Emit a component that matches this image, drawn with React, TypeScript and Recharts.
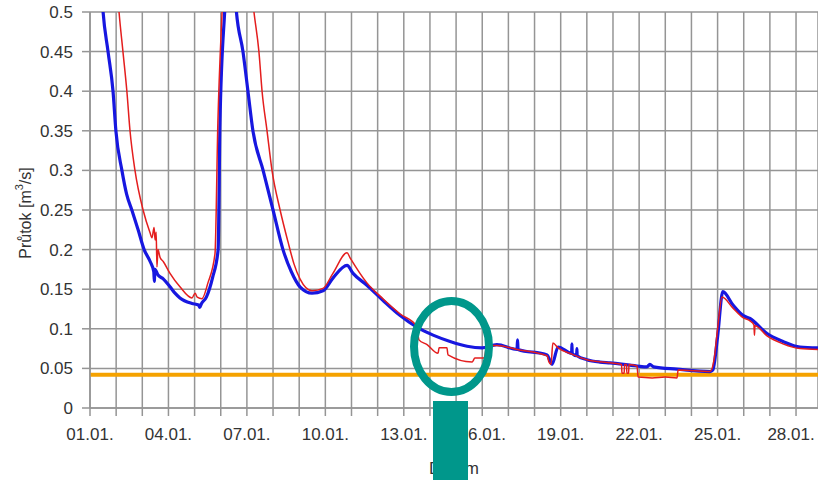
import { LineChart, Line, XAxis, YAxis, CartesianGrid, ReferenceLine } from 'recharts';

// blue series: day of month (fraction) / flow in m3/s
const blueDays = [
  1.0, 1.3, 1.5, 1.69, 1.88, 1.99, 2.22, 2.4, 2.6, 2.84, 3.07, 3.3, 3.44, 3.46, 3.48, 3.6, 3.8, 4.06, 4.25, 4.44, 4.9,
  5.15, 5.2, 5.25, 5.45, 5.69, 5.9, 5.97, 6.15, 6.4, 6.6, 6.85, 7.04, 7.23, 7.62, 8.0, 8.38, 8.7, 9.03,
  9.49, 9.91, 10.29, 10.83, 11.06, 11.59, 12.2, 12.85, 13.5, 14.12, 14.77, 15.42, 15.99, 16.56,
  17.33, 17.35, 17.37, 18.48, 18.59, 18.67, 18.9, 19.42, 19.43, 19.44, 19.61, 19.62, 19.63, 20.0,
  20.5, 20.89, 21.92, 22.3, 22.41, 22.55, 23.45, 24.71, 24.82, 25.0, 25.2, 25.59, 25.97, 26.24,
  26.89, 27.5, 28.15, 28.84,
];
const blueFlow = [
  0.95, 0.62, 0.5, 0.45, 0.4, 0.35, 0.3, 0.27, 0.25, 0.225, 0.2, 0.185, 0.172, 0.16, 0.175, 0.168, 0.163, 0.153, 0.145, 0.139, 0.132,
  0.13, 0.127, 0.131, 0.14, 0.165, 0.2, 0.36, 0.5, 0.6, 0.5, 0.45, 0.4, 0.35, 0.3, 0.25, 0.2, 0.172, 0.153,
  0.145, 0.148, 0.164, 0.18, 0.17, 0.155, 0.136, 0.117, 0.102, 0.092, 0.084, 0.078, 0.076, 0.08,
  0.074, 0.086, 0.074, 0.067, 0.06, 0.055, 0.077, 0.069, 0.081, 0.069, 0.066, 0.075, 0.066, 0.061,
  0.058, 0.057, 0.053, 0.052, 0.055, 0.052, 0.049, 0.046, 0.048, 0.09, 0.147, 0.13, 0.117, 0.113,
  0.094, 0.084, 0.077, 0.076,
];

// red series
const redDays = [
  1.0, 1.6, 2.11, 2.26, 2.41, 2.53, 2.72, 3.03, 3.29, 3.37, 3.45, 3.49, 3.53, 3.56, 3.6, 3.68, 3.8,
  4.06, 4.44, 4.9, 5.02, 5.1, 5.28, 5.51, 5.78, 5.89, 6.05, 6.6, 7.27, 7.46, 7.58, 7.77, 7.96, 8.27,
  8.57, 8.8, 9.03, 9.49, 9.91, 10.29, 10.83, 10.94, 11.59, 12.2, 12.85, 13.5, 13.58, 13.89, 14.31, 14.35,
  14.65, 14.69, 15.61, 15.72, 16.07, 16.18, 16.56, 17.33, 18.48, 18.55, 18.63, 18.7, 18.9, 19.43,
  20.0, 20.89, 21.33, 21.34, 21.43, 21.44, 21.52, 21.53, 21.6, 21.61, 21.92, 21.96, 22.5, 23.0,
  23.45, 23.49, 24.71, 24.86, 25.0, 25.17, 25.59, 25.97, 26.24, 26.39, 26.41, 26.43, 26.89, 27.5,
  28.15, 28.84,
];
const redFlow = [
  1.2, 0.8, 0.5, 0.45, 0.4, 0.35, 0.3, 0.25, 0.222, 0.215, 0.228, 0.212, 0.222, 0.178, 0.2, 0.19, 0.185,
  0.17, 0.153, 0.139, 0.145, 0.14, 0.138, 0.158, 0.195, 0.36, 0.5, 0.75, 0.5, 0.45, 0.4, 0.35, 0.3, 0.25,
  0.21, 0.182, 0.163, 0.148, 0.151, 0.17, 0.196, 0.19, 0.158, 0.138, 0.119, 0.103, 0.086, 0.08, 0.069, 0.076,
  0.076, 0.067, 0.058, 0.063, 0.063, 0.079, 0.079, 0.074, 0.066, 0.058, 0.055, 0.082, 0.076, 0.068,
  0.061, 0.057, 0.055, 0.044, 0.044, 0.055, 0.055, 0.044, 0.044, 0.055, 0.053, 0.039, 0.038, 0.039,
  0.038, 0.048, 0.046, 0.06, 0.1, 0.14, 0.126, 0.114, 0.11, 0.105, 0.092, 0.104, 0.091, 0.081,
  0.075, 0.074,
];

const limitFlow = 0.042;

const dayTicks = [1, 2, 3, 4, 5, 6, 7, 8, 9, 10, 11, 12, 13, 14, 15, 16, 17, 18, 19, 20, 21, 22, 23, 24, 25, 26, 27, 28];
const labelDays = [1, 4, 7, 10, 13, 16, 19, 22, 25, 28];
const dayLabels = ['01.01.', '04.01.', '07.01.', '10.01.', '13.01.', '16.01.', '19.01.', '22.01.', '25.01.', '28.01.'];
const flowTicks = [0, 0.05, 0.1, 0.15, 0.2, 0.25, 0.3, 0.35, 0.4, 0.45, 0.5];
const flowLabels = ['0', '0.05', '0.1', '0.15', '0.2', '0.25', '0.3', '0.35', '0.4', '0.45', '0.5'];

const blueData = blueDays.map((d, i) => ({ d, v: blueFlow[i] }));
const redData = redDays.map((d, i) => ({ d, v: redFlow[i] }));

const font = '"Liberation Sans", Arial, sans-serif';
const gridColor = '#959595';
const teal = '#00978B';

const DayTick = ({ x, y, payload }: any) => {
  const i = labelDays.indexOf(payload.value);
  if (i < 0) return null;
  // last label is pulled in a little so it stays inside the frame
  const shift = i === labelDays.length - 1 ? -5 : 0;
  return (
    <text x={x + shift} y={y + 10} textAnchor="middle" dominantBaseline="hanging" fill="#333" fontSize={17} fontFamily={font}>
      {dayLabels[i]}
    </text>
  );
};

export default function App() {
  return (
    <div style={{ position: 'absolute', left: 0, top: 0, width: 818, height: 480, background: '#fff', fontFamily: font }}>
      <LineChart width={818} height={480} margin={{ top: 12, right: 0, bottom: 0, left: 0 }}>
        <CartesianGrid stroke={gridColor} strokeWidth={1.5} />
        <XAxis
          type="number"
          dataKey="d"
          domain={[1, 28.84]}
          allowDataOverflow
          ticks={dayTicks}
          interval={0}
          height={72}
          tickSize={8}
          axisLine={{ stroke: gridColor, strokeWidth: 1.5 }}
          tickLine={{ stroke: gridColor, strokeWidth: 1.5 }}
          tick={<DayTick />}
          label={{
            content: ({ viewBox }: any) => (
              <text x={viewBox.x + viewBox.width / 2} y={viewBox.y + 60} textAnchor="middle" dominantBaseline="central" fill="#333" fontSize={17} fontFamily={font}>
                Datum
              </text>
            ),
          }}
        />
        <YAxis
          type="number"
          domain={[0, 0.5]}
          allowDataOverflow
          ticks={flowTicks}
          interval={0}
          width={90}
          tickSize={8}
          tickMargin={9}
          axisLine={{ stroke: gridColor, strokeWidth: 1.5 }}
          tickLine={{ stroke: gridColor, strokeWidth: 1.5 }}
          tick={{ fill: '#333', fontSize: 17, fontFamily: font }}
          tickFormatter={(v: number, i: number) => flowLabels[i] ?? String(v)}
          label={{
            content: ({ viewBox }: any) => {
              const cx = 25;
              const cy = viewBox.y + viewBox.height / 2 + 3;
              return (
                <text x={cx} y={cy} transform={`rotate(-90 ${cx} ${cy})`} textAnchor="middle" dominantBaseline="central" fill="#333" fontSize={16} fontFamily={font}>
                  <tspan>Průtok [m</tspan>
                  <tspan dy={-6} fontSize={11}>3</tspan>
                  <tspan dy={6}>/s]</tspan>
                </text>
              );
            },
          }}
        />
        <ReferenceLine y={limitFlow} stroke="#F5A200" strokeWidth={4} />
        <Line data={blueData} dataKey="v" type="monotone" stroke="#1717E0" strokeWidth={3.2} dot={false} isAnimationActive={false} />
        <Line data={redData} dataKey="v" type="monotone" stroke="#E41E1E" strokeWidth={1.5} dot={false} isAnimationActive={false} />
      </LineChart>
      <svg width={818} height={480} style={{ position: 'absolute', left: 0, top: 0, pointerEvents: 'none' }}>
        <ellipse cx={451.5} cy={346.5} rx={37.5} ry={45.5} fill="none" stroke={teal} strokeWidth={8} />
        <rect x={433} y={401} width={35} height={79} fill={teal} />
      </svg>
    </div>
  );
}
